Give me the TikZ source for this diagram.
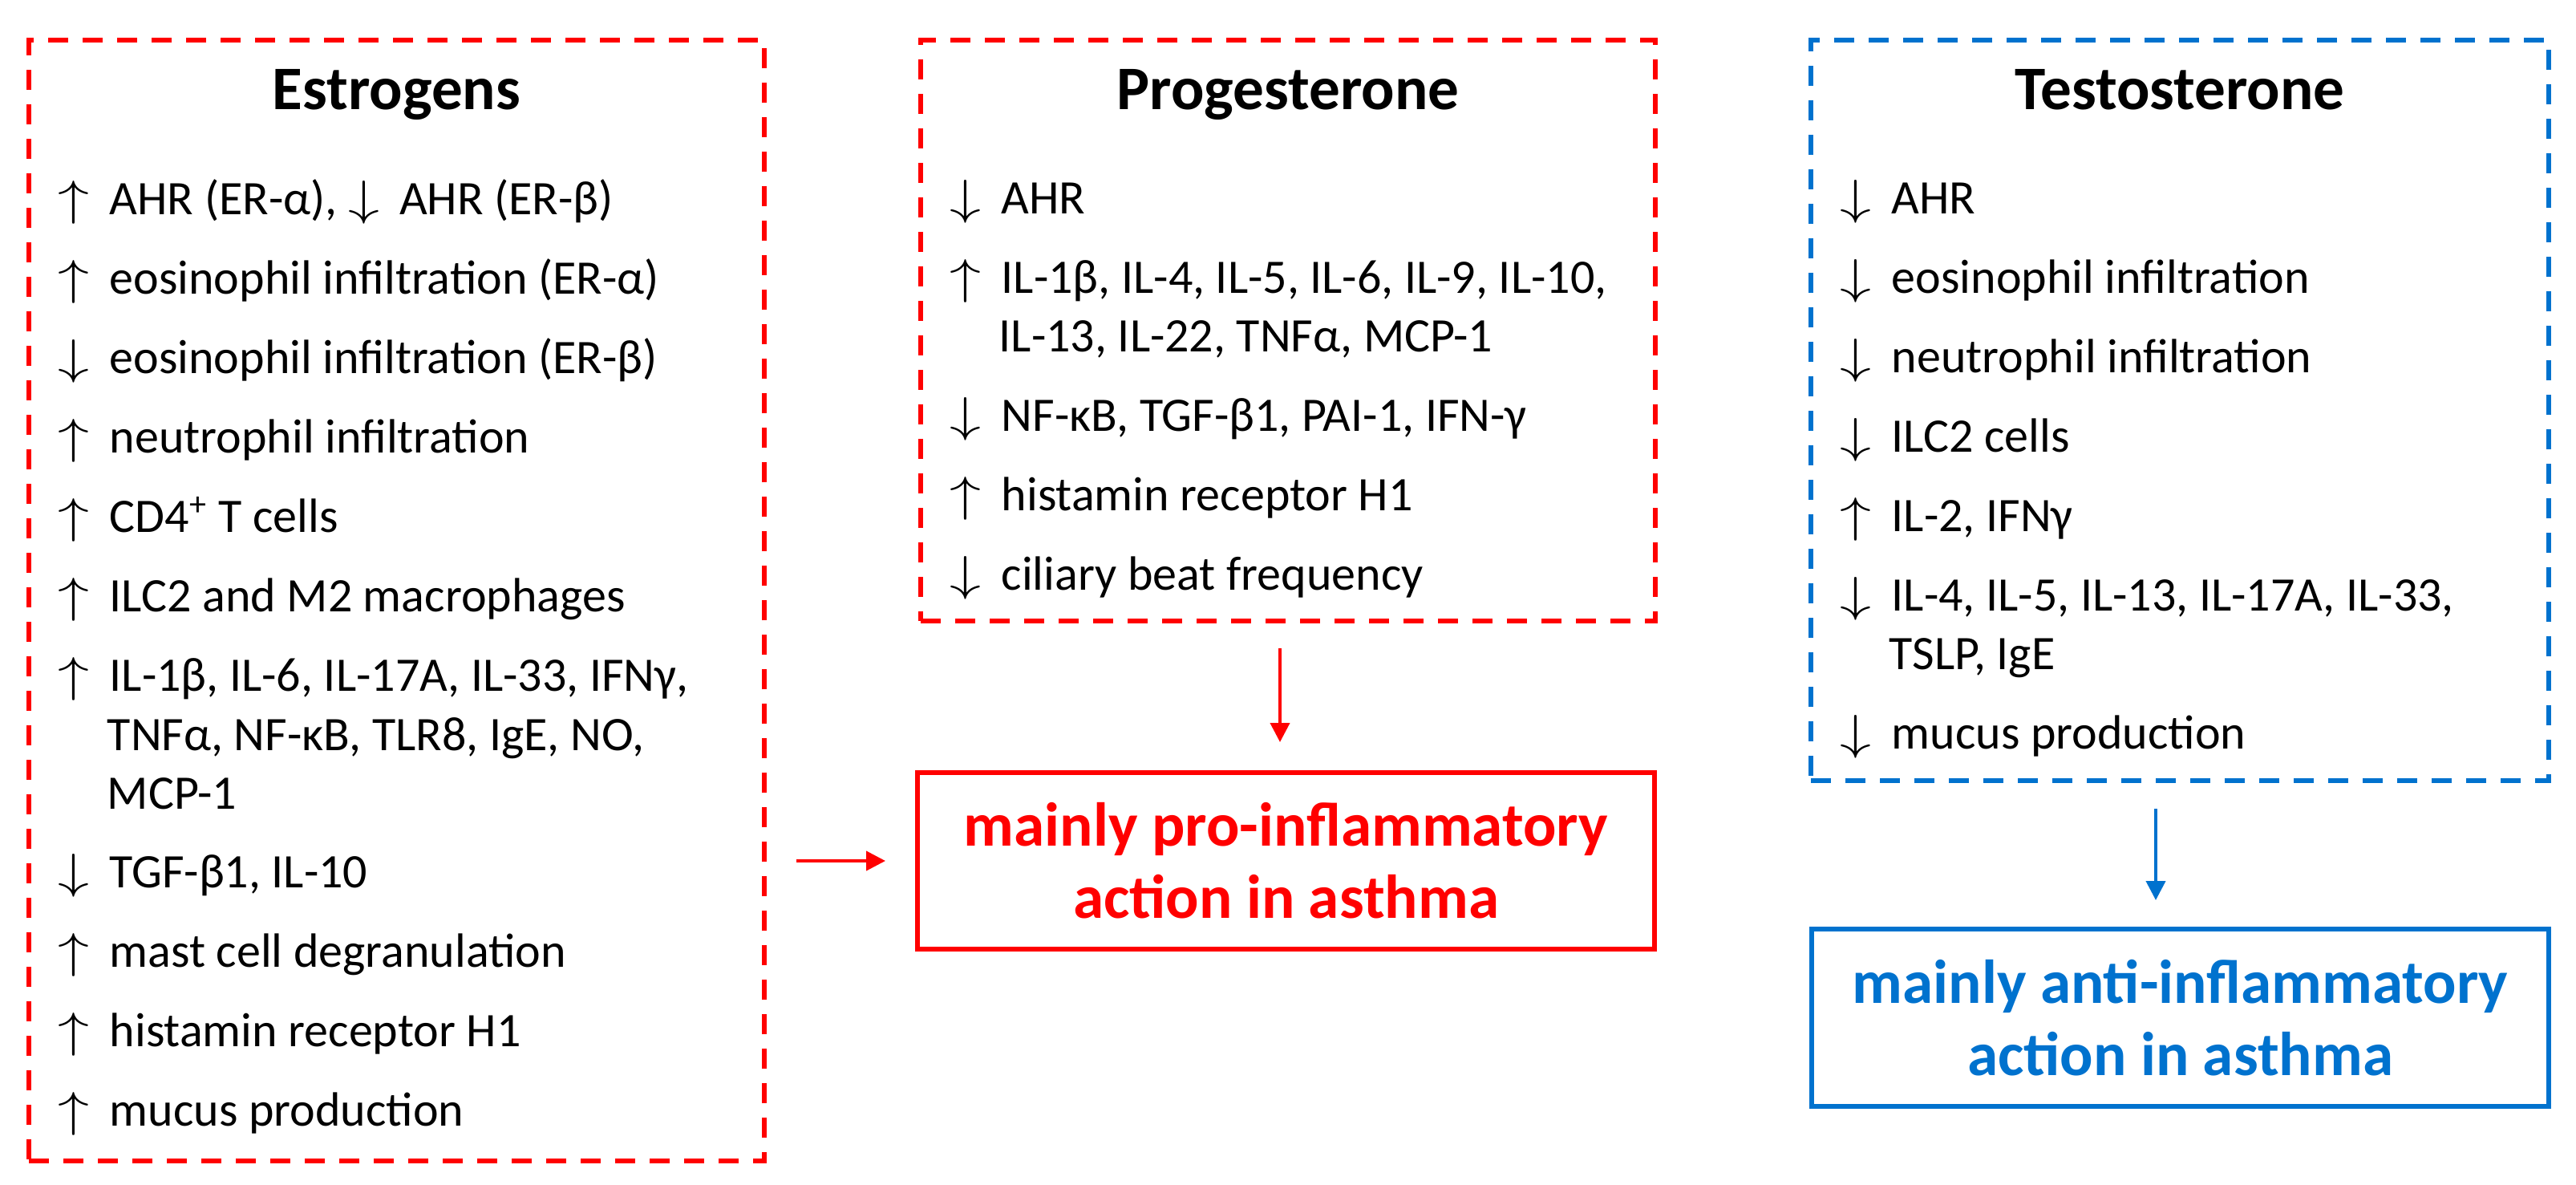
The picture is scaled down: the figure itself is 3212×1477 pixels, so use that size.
\documentclass[tikz,border=0pt]{standalone}
\usepackage{fontspec}
\usepackage{graphicx}
\setmainfont{Carlito}
\usetikzlibrary{arrows.meta}
\definecolor{hormred}{RGB}{255,0,0}
\definecolor{hormblue}{RGB}{0,114,206}
\newcommand{\upar}{\makebox[16pt][l]{\scalebox{1.35}[1.05]{\(\uparrow\)}}}
\newcommand{\dnar}{\makebox[16pt][l]{\scalebox{1.35}[1.05]{\(\downarrow\)}}}

\begin{document}
\begin{tikzpicture}[x=0.25pt,y=-0.25pt,
		dashbox/.style={draw=#1, line width=1.6pt, dash pattern=on 6.25pt off 4.5pt, inner sep=0pt, outer sep=0pt},
		solidbox/.style={draw=#1, text=#1, line width=1.4pt, inner sep=0pt, outer sep=0pt, align=center, font=\fontsize{19.3}{22.5}\selectfont\bfseries},
		hormtitle/.style={anchor=base, inner sep=0pt, font=\fontsize{19.3}{23}\selectfont\bfseries},
		entry/.style={anchor=base west, inner sep=0pt, font=\fontsize{15}{18}\selectfont},
		arr/.style={-{Triangle[length=6pt,width=6pt]}, line width=1pt}]
			\useasboundingbox (0,0) rectangle (3212,1477);
			% frames
			\node[dashbox=hormred, minimum width=229.25pt, minimum height=349.25pt] (estro) at (494.5,748.5) {};
			\node[dashbox=hormred, minimum width=229pt, minimum height=181pt] (prog) at (1606,412) {};
			\node[dashbox=hormblue, minimum width=230pt, minimum height=230.75pt] (testo) at (2718,511.5) {};
			\node[solidbox=hormred, minimum width=229.75pt, minimum height=55pt] (proinfl) at (1603.5,1073) {mainly pro-inflammatory\\action in asthma};
			\node[solidbox=hormblue, minimum width=229.75pt, minimum height=55.25pt] (antiinfl) at (2718.5,1268.5) {mainly anti-inflammatory\\action in asthma};
			% estrogens
			\node[hormtitle] (estroT) at (494.5,136) {Estrogens};
			\node[entry] (e1) at (72,267) {\upar AHR (ER-α), \dnar AHR (ER-β)};
			\node[entry] (e2) at (72,366) {\upar eosinophil infiltration (ER-α)};
			\node[entry] (e3) at (72,465) {\dnar eosinophil infiltration (ER-β)};
			\node[entry] (e4) at (72,564) {\upar neutrophil infiltration};
			\node[entry] (e5) at (72,663) {\upar CD4\textsuperscript{+} T cells};
			\node[entry] (e6) at (72,762) {\upar ILC2 and M2 macrophages};
			\node[entry] (e7) at (72,861) {\upar IL-1β, IL-6, IL-17A, IL-33, IFNγ,};
			\node[entry] (e7b) at (133,935) {TNFα, NF-κB, TLR8, IgE, NO,};
			\node[entry] (e7c) at (133,1008) {MCP-1};
			\node[entry] (e8) at (72,1106) {\dnar TGF-β1, IL-10};
			\node[entry] (e9) at (72,1205) {\upar mast cell degranulation};
			\node[entry] (e10) at (72,1304) {\upar histamin receptor H1};
			\node[entry] (e11) at (72,1403) {\upar mucus production};
			% progesterone
			\node[hormtitle] (progT) at (1606,136) {Progesterone};
			\node[entry] (p1) at (1184,266) {\dnar AHR};
			\node[entry] (p2) at (1184,365) {\upar IL-1β, IL-4, IL-5, IL-6, IL-9, IL-10,};
			\node[entry] (p2b) at (1245,438) {IL-13, IL-22, TNFα, MCP-1};
			\node[entry] (p3) at (1184,537) {\dnar NF-κB, TGF-β1, PAI-1, IFN-γ};
			\node[entry] (p4) at (1184,636) {\upar histamin receptor H1};
			\node[entry] (p5) at (1184,735) {\dnar ciliary beat frequency};
			% testosterone
			\node[hormtitle] (testoT) at (2718,136) {Testosterone};
			\node[entry] (t1) at (2294,266) {\dnar AHR};
			\node[entry] (t2) at (2294,365) {\dnar eosinophil infiltration};
			\node[entry] (t3) at (2294,464) {\dnar neutrophil infiltration};
			\node[entry] (t4) at (2294,563) {\dnar ILC2 cells};
			\node[entry] (t5) at (2294,662) {\upar IL-2, IFNγ};
			\node[entry] (t6) at (2294,761) {\dnar IL-4, IL-5, IL-13, IL-17A, IL-33,};
			\node[entry] (t6b) at (2355,834) {TSLP, IgE};
			\node[entry] (t7) at (2294,933) {\dnar mucus production};
			% arrows
			\draw[arr, hormred, shorten <=10pt, shorten >=10pt] (proinfl.west -| estro.east) -- (proinfl.west);
			\draw[arr, hormred, shorten <=8.5pt, shorten >=9.5pt] ([xshift=-2.5pt]prog.south) -- ([xshift=-2.5pt]prog.south |- proinfl.north);
			\draw[arr, hormblue, shorten <=8.75pt, shorten >=9pt] ([xshift=-7.5pt]testo.south) -- ([xshift=-7.5pt]testo.south |- antiinfl.north);
		\end{tikzpicture}
\end{document}
